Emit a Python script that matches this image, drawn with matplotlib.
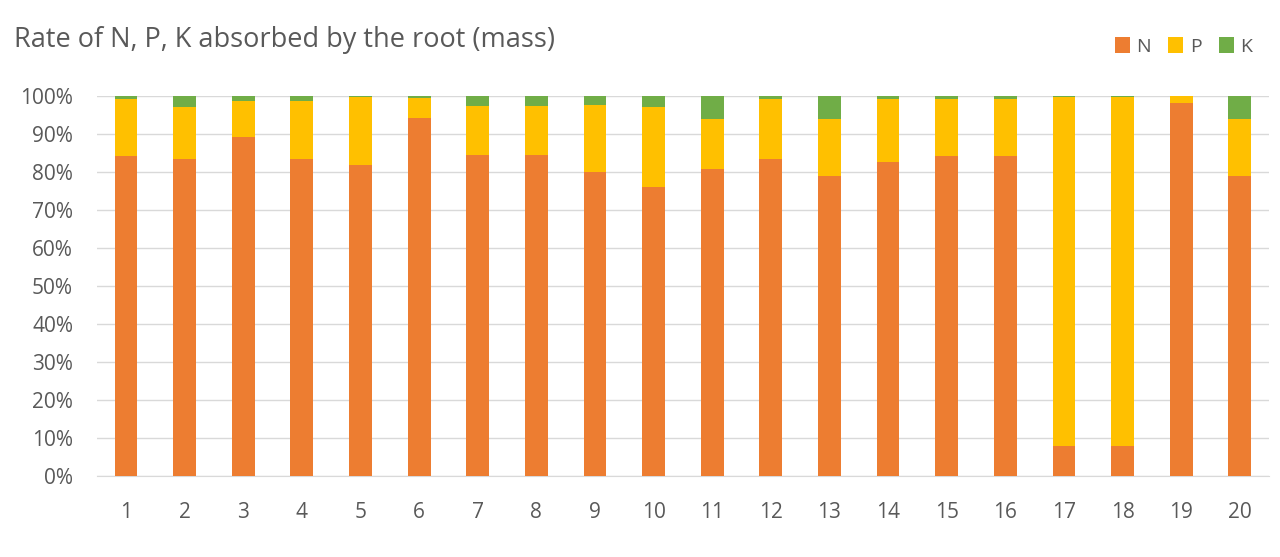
import matplotlib
matplotlib.use("Agg")
import matplotlib.pyplot as plt
import numpy as np
from matplotlib.ticker import PercentFormatter

categories = [str(i) for i in range(1, 21)]
N = [84.1, 83.3, 89.2, 83.3, 81.9, 94.2, 84.5, 84.5, 80.0, 76.1,
     80.8, 83.3, 79.0, 82.6, 84.1, 84.1, 7.9, 7.9, 98.2, 79.0]
P = [15.1, 13.8, 9.3, 15.2, 17.7, 5.3, 12.9, 12.9, 17.5, 21.0,
     13.0, 15.9, 14.8, 16.6, 15.1, 15.1, 91.7, 91.7, 1.7, 14.8]
K = [0.8, 2.9, 1.5, 1.5, 0.4, 0.5, 2.6, 2.6, 2.5, 2.9,
     6.2, 0.8, 6.2, 0.8, 0.8, 0.8, 0.4, 0.4, 0.1, 6.2]

colors = {"N": "#ED7D31", "P": "#FFC000", "K": "#70AD47"}
text_color = "#595959"

plt.rcParams['font.family'] = ['Open Sans', 'DejaVu Sans']

fig = plt.figure(figsize=(12.8, 5.57), dpi=100)
ax = fig.add_axes([0.0755, 0.1454, 0.916, 0.6828])

x = np.arange(len(categories))
n = np.array(N); p = np.array(P); k = np.array(K)
tot = n + p + k
nf, pf, kf = n / tot, p / tot, k / tot
w = 0.39
ax.bar(x, nf, w, color=colors["N"], label="N", zorder=3)
ax.bar(x, pf, w, bottom=nf, color=colors["P"], label="P", zorder=3)
ax.bar(x, kf, w, bottom=nf + pf, color=colors["K"], label="K", zorder=3)

ax.set_xlim(-0.5, len(categories) - 0.5)
ax.set_ylim(0, 1)
ax.set_yticks(np.arange(0, 1.01, 0.1))
ax.yaxis.set_major_formatter(PercentFormatter(1.0, decimals=0))
ax.set_xticks(x)
ax.set_xticklabels(categories)
ax.grid(axis='y', color='#d9d9d9', linewidth=1, zorder=0)
for s in ['top', 'right', 'left']:
    ax.spines[s].set_visible(False)
ax.spines['bottom'].set_color('#d9d9d9')
ax.tick_params(axis='both', length=0, labelsize=15, colors=text_color)
ax.tick_params(axis='x', pad=19)
ax.tick_params(axis='y', pad=17)

fig.text(0.011, 0.928, "Rate of N, P, K absorbed by the root (mass)",
         fontsize=19.5, color=text_color, ha='left', va='center')

leg = fig.legend(loc='center right', bbox_to_anchor=(0.992, 0.917), ncol=3,
                 frameon=False, fontsize=14, handlelength=0.75, handleheight=0.9,
                 handletextpad=0.35, columnspacing=0.9, labelcolor=text_color)

fig.savefig("out.png", dpi=100)
